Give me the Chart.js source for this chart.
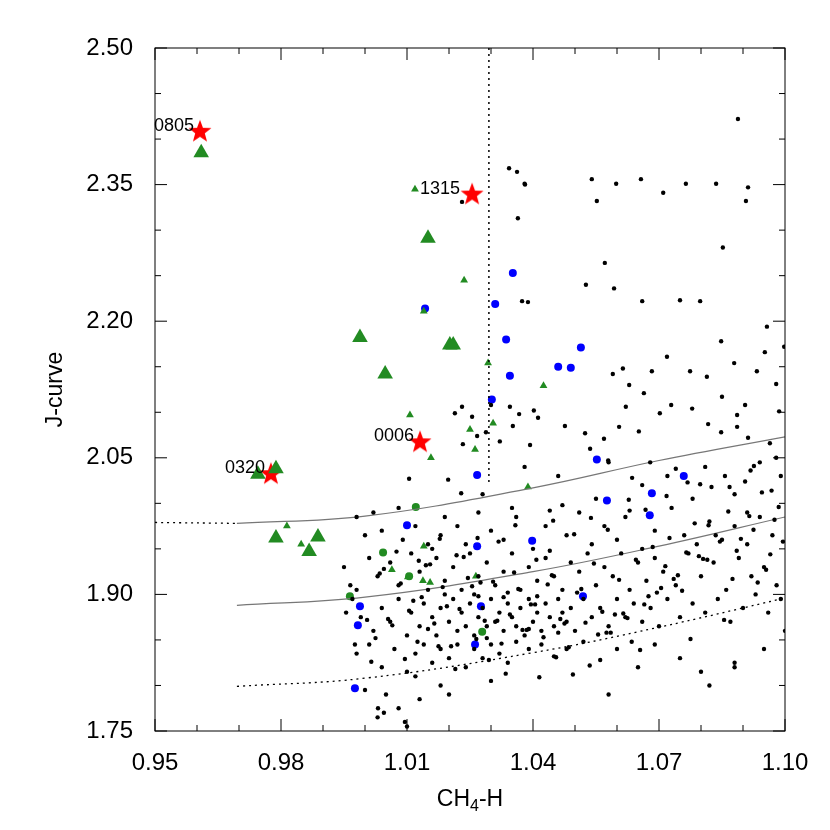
<!DOCTYPE html>
<html><head><meta charset="utf-8">
<script src="https://cdn.jsdelivr.net/npm/chart.js@4"></script>
<style>html,body{margin:0;padding:0;background:#fff}</style>
</head><body><canvas id="c" width="830" height="830"></canvas>
<script>
const xTicks=[0.95,0.98,1.01,1.04,1.07,1.10];
const yTicks=[1.75,1.90,2.05,2.20,2.35,2.50];
const starX=[0.9607,1.0255,1.0131,0.9776];
const starY=[2.408,2.339,2.067,2.032];
const starLabels=['0805','1315','0006','0320'];
const bigTriX=[0.9610,1.0150,0.9988,1.0048,1.0202,1.0210,0.9745,0.9788,0.9788,0.9867,0.9888];
const bigTriY=[2.385,2.291,2.182,2.142,2.174,2.174,2.032,2.038,1.962,1.947,1.963];
const smallTriX=[1.0119,1.0236,1.0293,1.0107,1.0305,1.0250,1.0157,1.0262,1.0140,1.0425,1.0388,0.9814,0.9848,1.0102,1.0138,1.0155,1.0264,1.0140,1.0064];
const smallTriY=[2.345,2.245,2.154,2.097,2.088,2.081,2.050,2.059,2.211,2.129,2.018,1.975,1.955,1.919,1.915,1.913,1.920,1.953,1.927];
const greenCircX=[1.0121,1.0043,0.9964,1.0105,1.0279];
const greenCircY=[1.996,1.946,1.898,1.920,1.859];
const blueX=[1.0143,1.0310,1.0352,1.0336,1.0345,1.0302,1.0267,1.0100,1.0267,1.0490,1.0514,1.0460,1.0552,1.0759,1.0683,1.0576,1.0678,1.0519,1.0398,0.9988,0.9983,0.9976,1.0276,1.0262];
const blueY=[2.214,2.219,2.253,2.180,2.140,2.114,2.031,1.976,1.953,2.149,2.171,2.150,2.048,2.030,2.011,2.003,1.987,1.898,1.959,1.887,1.866,1.797,1.887,1.845];
const blackX=[1.002,1.008,1.019,1.028,1.038,1.046,1.058,1.066,1.072,1.081,1.088,1.094,1.099,1.055,1.047,1.063,1.078,1.091,1.035,1.012,
0.998,1.000,1.004,1.009,1.015,1.018,1.022,1.024,1.030,1.033,1.036,1.040,1.043,1.048,1.051,1.054,1.057,1.060,1.062,1.066,1.069,1.073,1.076,1.079,1.082,1.085,1.088,1.091,1.094,1.097,1.027,1.044,
0.995,0.998,1.001,1.003,1.006,1.008,1.011,1.013,1.015,1.017,1.019,1.021,1.023,1.025,1.027,1.029,1.031,1.033,1.035,1.037,1.039,1.041,1.043,1.045,1.047,1.049,1.051,1.053,1.055,1.057,1.059,1.061,1.063,1.065,1.067,1.069,1.071,1.074,1.077,1.080,1.083,1.086,1.089,1.092,1.095,1.098,1.026,1.034,1.044,1.016,
0.997,0.999,1.002,1.004,1.006,1.008,1.010,1.011,1.013,1.014,1.016,1.017,1.018,1.020,1.021,1.022,1.023,1.024,1.025,1.026,1.027,1.028,1.029,1.030,1.031,1.032,1.033,1.034,1.035,1.036,1.037,1.038,1.039,1.040,1.041,1.042,1.043,1.044,1.045,1.046,1.047,1.048,1.049,1.050,1.052,1.054,1.056,1.058,1.060,1.062,1.064,1.066,1.068,1.070,1.072,1.075,1.078,1.081,1.084,1.087,1.090,1.093,1.096,1.099,1.019,1.027,1.033,1.041,1.015,1.029,1.039,1.046,
0.998,1.001,1.004,1.007,1.010,1.012,1.014,1.016,1.018,1.020,1.022,1.024,1.026,1.028,1.030,1.032,1.034,1.036,1.039,1.042,1.045,1.048,1.052,1.056,1.060,1.065,1.069,1.075,1.080,1.088,1.095,1.100,1.012,1.018,
1.000,1.005,1.008,1.013,1.003,1.010,1.020,1.030,1.058,1.082,1.088,
1.0343,1.0362,1.0380,1.0540,1.0598,1.0552,1.0657,1.0710,1.0764,1.0836,1.0888,1.0912,1.0907,1.0852,1.0571,1.0526,1.0593,1.0660,1.0388,1.0750,1.0798,1.0957,1.0848,1.0952,1.0998,
1.059,1.0614,1.0629,1.0664,1.0683,1.0719,1.0774,1.0814,1.0879,1.0933,1.085,1.0886,1.0905,1.0979,1.0986,1.0621,1.0569,1.0605,1.0652,1.0702,1.0729,1.0779,1.0817,1.0848,1.0886,1.0912,1.0964,1.0214,1.0233,1.0402,1.0255,1.0345,1.0412,1.0288,1.0321,1.0393,1.0476,1.0524,1.0536,1.0579,1.0636,1.0679,1.074,1.0798,1.0857,1.0926,1.0979,
1.0231,1.0364,1.0374,1.0231,1.030,1.0367,1.0352,1.0267,1.0105,1.0198,1.0229,1.0381,0.9965,0.9955,0.9976,1.0031,1.0045,1.0095,
1.0005,1.0025,1.0045,1.0065,1.0085,1.0105,1.0125,1.0145,1.0165,1.0185,1.0205,1.0225,1.0245,1.0265,1.0285,1.0305,1.0325,1.0345,1.0365,1.0385,1.0405,1.0425,1.0445,1.0465,1.0485,1.0505,1.0525,1.0545,1.0565,1.0585,1.0605,1.0625,1.0645,1.0665,1.0685,1.0705,1.0725,1.0745,1.0765,1.0785,1.0805,1.0825,1.0845,1.0865,1.0885,1.0905,1.0925,1.0945,1.0965,1.0985,
1.0035,1.0075,1.0115,1.0155,1.0195,1.0235,1.0275,1.0315,1.0355,1.0395,1.0435,1.0475,1.0515,1.0555,1.0595,1.0635,1.0675,1.0715,1.0755,1.0795,1.0835,1.0875,1.0915,1.0955,1.0995,
1.0015,1.0055,1.0095,1.0135,1.0175,1.0215,1.0255,1.0295,1.0335,1.0375,1.0415,1.0455,1.0495,1.0535,1.0575,1.0615,1.0655,1.0695,1.0735,1.0775,1.0815,1.0855,1.0895,1.0935,1.0975,
1.0128,1.0178,1.0218,1.0268,1.0318,1.0358,1.0408,1.0448,1.0498,1.0538,1.0578,1.0628,1.0668,1.0718,1.0768,1.0818,1.0868,1.0918,1.0968];
const blackY=[1.99,1.995,1.985,2.01,2.04,2.03,2.045,2.02,2.03,2.04,2.01,2.045,2.03,2.005,1.998,1.992,2.005,1.99,1.995,1.975,
1.985,1.965,1.97,1.96,1.955,1.965,1.975,1.955,1.97,1.96,1.985,1.95,1.975,1.965,1.99,1.955,1.975,1.96,1.985,1.95,1.97,1.995,1.965,1.955,1.98,1.96,1.975,1.955,1.985,1.965,1.99,1.992,
1.93,1.905,1.94,1.92,1.935,1.91,1.945,1.925,1.905,1.94,1.915,1.93,1.905,1.945,1.92,1.935,1.91,1.925,1.945,1.905,1.93,1.915,1.94,1.92,1.905,1.935,1.925,1.945,1.91,1.93,1.92,1.945,1.905,1.935,1.915,1.94,1.925,1.91,1.945,1.92,1.935,1.905,1.94,1.92,1.93,1.91,1.90,1.902,1.948,1.95,
1.895,1.875,1.86,1.885,1.87,1.895,1.855,1.88,1.865,1.89,1.875,1.855,1.885,1.87,1.895,1.86,1.88,1.865,1.89,1.855,1.875,1.885,1.865,1.895,1.87,1.88,1.86,1.89,1.875,1.865,1.885,1.855,1.895,1.87,1.88,1.86,1.89,1.875,1.865,1.895,1.88,1.87,1.885,1.86,1.895,1.875,1.885,1.865,1.895,1.875,1.89,1.87,1.885,1.865,1.895,1.875,1.89,1.88,1.895,1.87,1.885,1.90,1.88,1.895,1.90,1.898,1.897,1.898,1.862,1.852,1.862,1.858,
1.835,1.845,1.82,1.84,1.815,1.835,1.845,1.825,1.84,1.83,1.845,1.82,1.84,1.83,1.845,1.835,1.825,1.848,1.84,1.845,1.832,1.84,1.848,1.828,1.84,1.82,1.845,1.83,1.815,1.825,1.84,1.86,1.81,1.80,
1.795,1.79,1.775,1.785,1.765,1.755,1.79,1.805,1.79,1.80,1.82,
2.368,2.364,2.351,2.356,2.351,2.332,2.356,2.341,2.351,2.351,2.422,2.347,2.332,2.281,2.264,2.240,2.236,2.222,2.221,2.223,2.222,2.194,2.178,2.166,2.172,
2.142,2.148,2.130,2.121,2.145,2.161,2.145,2.139,2.154,2.145,2.117,2.097,2.108,2.131,2.101,2.106,2.071,2.084,2.079,2.099,2.108,2.104,2.087,2.078,2.084,2.072,2.066,2.099,2.065,2.102,2.095,2.106,2.094,2.078,2.068,2.064,2.085,2.077,2.060,2.047,2.028,2.045,2.038,2.021,2.030,2.041,2.050,
2.331,2.313,2.222,2.106,2.108,2.098,2.085,2.074,2.027,2.026,2.011,2.350,1.91,1.88,1.845,1.775,1.77,1.76,
1.872,1.852,1.928,1.866,1.912,1.882,1.848,1.932,1.868,1.908,1.843,1.884,1.918,1.851,1.871,1.914,1.846,1.878,1.906,1.861,1.889,1.853,1.921,1.873,1.842,1.902,1.869,1.934,1.881,1.858,1.916,1.874,1.938,1.889,1.952,1.907,1.962,1.921,1.946,1.978,1.939,2.018,1.958,1.991,1.948,2.024,1.971,2.012,1.944,1.996,
1.923,1.947,1.893,1.933,1.887,1.941,1.913,1.871,1.924,1.889,1.911,1.868,1.906,1.856,1.878,1.848,1.898,1.931,1.904,1.942,1.965,1.917,1.986,1.927,1.958,
1.826,1.873,1.829,1.897,1.843,1.818,1.909,1.828,1.813,1.861,1.809,1.831,1.812,1.822,1.858,1.879,1.839,1.902,1.917,1.851,1.938,1.872,1.961,1.913,1.982,
1.937,1.961,1.943,1.962,1.958,1.976,1.938,1.981,1.966,1.984,1.971,2.004,1.993,2.008,2.023,1.976,2.018,2.036,2.014];
const upperX=[0.9695,1.00,1.04,1.07,1.10], upperY=[1.978,1.986,2.017,2.047,2.073];
const midX=[0.9695,1.00,1.04,1.07,1.10], midY=[1.888,1.897,1.925,1.953,1.985];
const lowX=[0.9695,1.00,1.04,1.07,1.10], lowY=[1.799,1.808,1.836,1.864,1.896];
const extX=[0.95,0.9695], extY=[1.979,1.978];
const vlineX=[1.0295,1.0295], vlineY=[2.50,2.02];

const pts=(xs,ys)=>xs.map((x,i)=>({x,y:ys[i]}));
function starImg(r){const c=document.createElement('canvas');c.width=c.height=2*r+2;const g=c.getContext('2d');g.beginPath();
for(let i=0;i<10;i++){const a=-Math.PI/2+i*Math.PI/5;const rr=i%2?r*0.42:r;g.lineTo(r+1+rr*Math.cos(a),r+1+rr*Math.sin(a));}
g.closePath();g.fillStyle='#ff0000';g.fill();return c;}
const star=starImg(12);
const green='#228B22';
const F='"Liberation Sans", Arial';
const lineDs=(xs,ys,dash)=>({type:'line',data:pts(xs,ys),borderColor:dash?'#000':'#777',borderWidth:dash?1.3:1.2,borderDash:dash?[2,4]:[],pointRadius:0,tension:0.4,fill:false});
const frame={id:'frame',afterDraw(ch){const g=ch.ctx,a=ch.chartArea,xs=ch.scales.x,ys=ch.scales.y;g.save();g.strokeStyle='#000';g.lineWidth=1;
g.strokeRect(a.left,a.top,a.right-a.left,a.bottom-a.top);
for(let v=0.95;v<=1.1001;v+=0.01){const p=xs.getPixelForValue(v);const major=xTicks.some(t=>Math.abs(t-v)<1e-6);const L=major?12:6;
g.beginPath();g.moveTo(p,a.bottom);g.lineTo(p,a.bottom-L);g.moveTo(p,a.top);g.lineTo(p,a.top+L);g.stroke();}
for(let v=1.75;v<=2.5001;v+=0.05){const p=ys.getPixelForValue(v);const major=yTicks.some(t=>Math.abs(t-v)<1e-6);const L=major?12:6;
g.beginPath();g.moveTo(a.left,p);g.lineTo(a.left+L,p);g.moveTo(a.right,p);g.lineTo(a.right-L,p);g.stroke();}
g.fillStyle='#000';g.font='18px '+F;g.textAlign='right';g.textBaseline='middle';
starLabels.forEach((l,i)=>{g.fillText(l,xs.getPixelForValue(starX[i])-(i==1?12:6),ys.getPixelForValue(starY[i])-6);});
g.textBaseline='alphabetic';g.textAlign='left';
const cx=(a.left+a.right)/2;g.font='23px '+F;const w1=g.measureText('CH').width;g.font='16px '+F;const w2=g.measureText('4').width;g.font='23px '+F;const w3=g.measureText('-H').width;
let x0=cx-(w1+w2+w3)/2;g.fillText('CH',x0,806);g.font='16px '+F;g.fillText('4',x0+w1,811);g.font='23px '+F;g.fillText('-H',x0+w1+w2,806);
g.translate(62,(a.top+a.bottom)/2);g.rotate(-Math.PI/2);g.textAlign='center';g.fillText('J-curve',0,0);
g.restore();}};
new Chart(document.getElementById('c'),{type:'scatter',
data:{datasets:[
{data:pts(blackX,blackY),pointRadius:2.2,backgroundColor:'#000',borderWidth:0},
lineDs(upperX,upperY,false),lineDs(midX,midY,false),lineDs(lowX,lowY,true),lineDs(extX,extY,true),
{type:'line',data:pts(vlineX,vlineY),borderColor:'#000',borderWidth:1.5,borderDash:[2,4],pointRadius:0},
{data:pts(greenCircX,greenCircY),pointRadius:4,backgroundColor:green,borderWidth:0},
{data:pts(smallTriX,smallTriY),pointStyle:'triangle',pointRadius:4.5,backgroundColor:green,borderColor:green,borderWidth:0},
{data:pts(bigTriX,bigTriY),pointStyle:'triangle',pointRadius:9,backgroundColor:green,borderColor:green,borderWidth:0},
{data:pts(blueX,blueY),pointRadius:4,backgroundColor:'#0000ff',borderWidth:0},
{data:pts(starX,starY),pointStyle:star}
]},
options:{responsive:false,animation:false,events:[],layout:{padding:{top:48,right:45,left:0,bottom:0}},
plugins:{legend:{display:false},tooltip:{enabled:false}},
scales:{
x:{type:'linear',min:0.95,max:1.10,grid:{display:false},border:{display:false},afterBuildTicks(s){s.ticks=xTicks.map(v=>({value:v}));},
afterFit(s){s.height=99;},ticks:{color:'#000',padding:10,font:{size:24,family:F},callback:v=>v.toFixed(2),maxRotation:0}},
y:{type:'linear',min:1.75,max:2.50,grid:{display:false},border:{display:false},afterBuildTicks(s){s.ticks=yTicks.map(v=>({value:v}));},
afterFit(s){s.width=155;},ticks:{color:'#000',padding:14,font:{size:24,family:F},callback:v=>v.toFixed(2)}}
}},plugins:[frame]});
</script></body></html>
